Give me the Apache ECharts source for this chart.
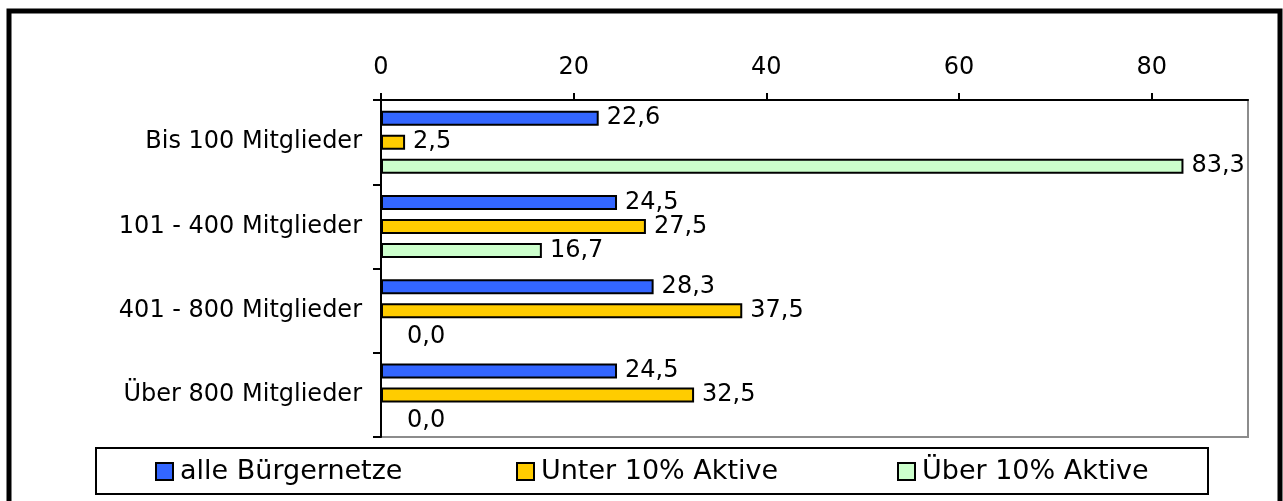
<!DOCTYPE html>
<html>
<head>
<meta charset="utf-8">
<title>Bürgernetze nach Mitgliederzahl</title>
<script src="https://cdn.jsdelivr.net/npm/echarts@6/dist/echarts.min.js"></script>
<style>
  html, body { margin: 0; padding: 0; background: #fff; }
  #chart { width: 1283px; height: 501px; }
</style>
</head>
<body>
<div id="chart"></div>
<script>
// Size classes (top to bottom)
const categories = ['Bis 100 Mitglieder', '101 - 400 Mitglieder', '401 - 800 Mitglieder', 'Über 800 Mitglieder'];

// Shares in percent per size class
const alleBuergernetze = [22.6, 24.5, 28.3, 24.5];
const unter10Aktive   = [2.5, 27.5, 37.5, 32.5];
const ueber10Aktive   = [83.3, 16.7, 0.0, 0.0];

const seriesNames = ['alle Bürgernetze', 'Unter 10% Aktive', 'Über 10% Aktive'];

// Value axis tick labels
const xTicks = [0, 20, 40, 60, 80];

const FONT = "'DejaVu Sans', Verdana, sans-serif";
const colors = ['#3366FF', '#FFCC00', '#CCFFCC'];

const fmt = v => v.toFixed(1).replace('.', ',');

function makeSeries(name, values, color) {
  return {
    name: name,
    type: 'bar',
    barWidth: 15,
    barGap: '60%',
    itemStyle: { color: color, borderColor: '#000', borderWidth: 2 },
    label: {
      show: true,
      position: 'right',
      distance: 8,
      color: '#000',
      fontFamily: FONT,
      fontSize: 24,
      formatter: p => fmt(p.value)
    },
    // zero values get their label pushed clear of the axis line
    data: values.map(v => v === 0 ? { value: v, label: { offset: [17, 2] } } : v)
  };
}

function makeLegend(name, left) {
  return {
    data: [name],
    left: left,
    top: 458,
    padding: 0,
    icon: 'rect',
    itemWidth: 17,
    itemHeight: 17,
    selectedMode: false,
    textStyle: { fontFamily: FONT, fontSize: 27, color: '#000', lineHeight: 27, padding: [0, 0, 0, 2] }
  };
}

const chart = echarts.init(document.getElementById('chart'), null, { renderer: 'canvas' });

chart.setOption({
  animation: false,
  backgroundColor: '#fff',
  grid: {
    left: 381, top: 100, right: 35, bottom: 64,
    show: true,
    backgroundColor: '#fff',
    borderColor: '#8c8c8c',
    borderWidth: 2
  },
  xAxis: {
    type: 'value',
    position: 'top',
    min: 0,
    max: 90,
    interval: 20,
    axisLine: { show: true, lineStyle: { color: '#000', width: 2 } },
    axisTick: { show: true, length: 7, customValues: xTicks, lineStyle: { color: '#000', width: 2 } },
    axisLabel: { customValues: xTicks, margin: 20, color: '#000', fontFamily: FONT, fontSize: 24 },
    splitLine: { show: false }
  },
  yAxis: {
    type: 'category',
    inverse: true,
    data: categories,
    axisLine: { show: true, lineStyle: { color: '#000', width: 2 } },
    axisTick: { show: true, length: 8, alignWithLabel: false, lineStyle: { color: '#000', width: 2 } },
    axisLabel: { margin: 19, color: '#000', fontFamily: FONT, fontSize: 24 }
  },
  legend: [
    makeLegend(seriesNames[0], 155),
    makeLegend(seriesNames[1], 516),
    makeLegend(seriesNames[2], 897)
  ],
  graphic: [
    {
      type: 'rect',
      z: -1,
      shape: { x: 96, y: 448, width: 1112, height: 46 },
      style: { fill: '#fff', stroke: '#000', lineWidth: 2 }
    },
    {
      type: 'rect',
      z: 100,
      shape: { x: 9, y: 11, width: 1271, height: 520 },
      style: { fill: null, stroke: '#000', lineWidth: 5 }
    }
  ],
  series: [
    makeSeries(seriesNames[0], alleBuergernetze, colors[0]),
    makeSeries(seriesNames[1], unter10Aktive, colors[1]),
    makeSeries(seriesNames[2], ueber10Aktive, colors[2])
  ]
});
</script>
</body>
</html>
